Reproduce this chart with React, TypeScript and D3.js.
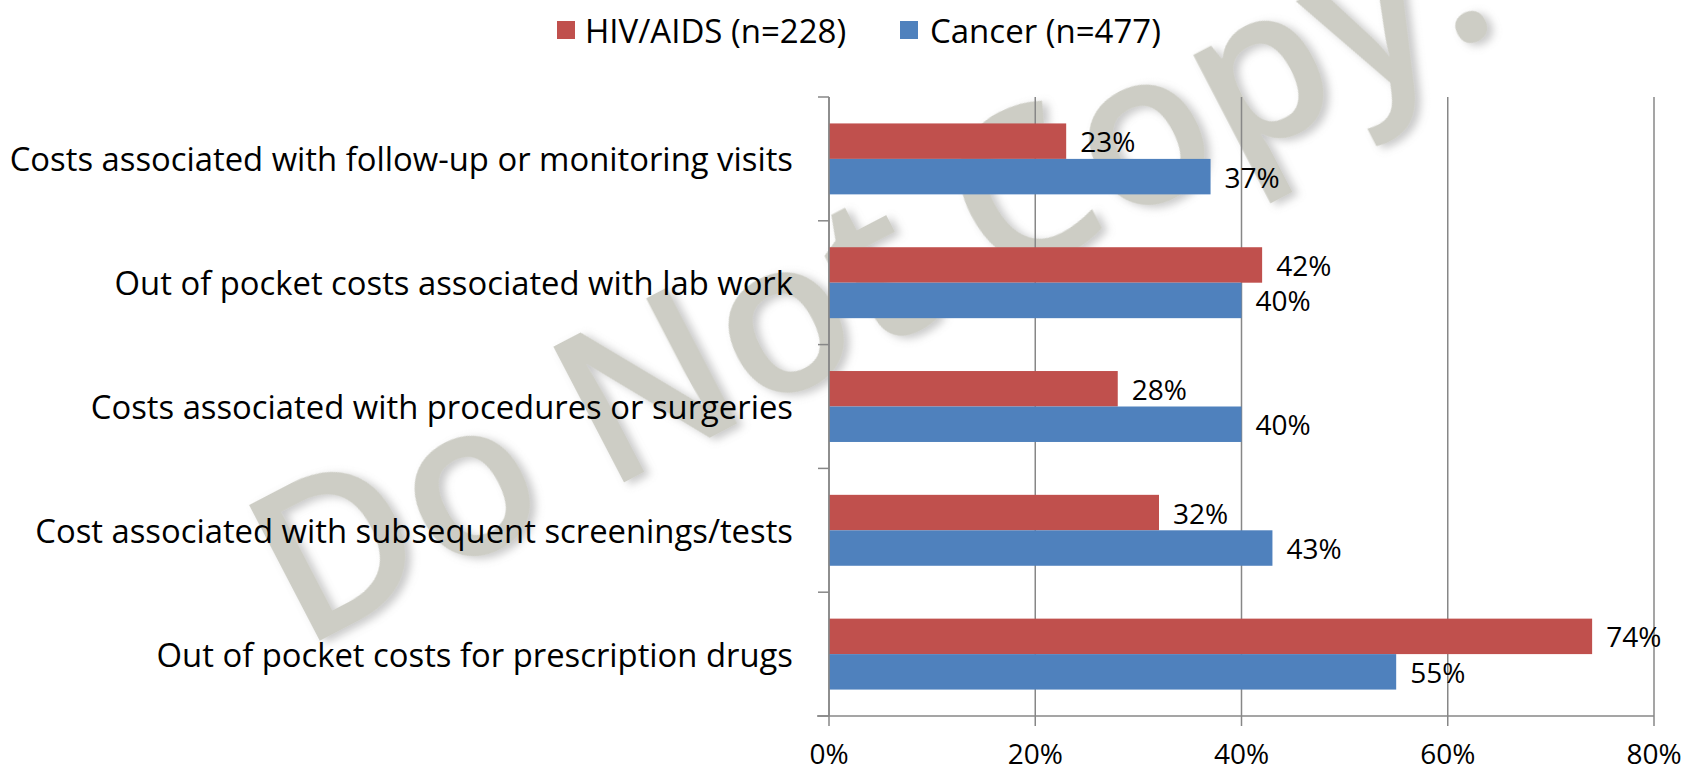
import * as d3 from "d3";

// chart data
const categories = [
  "Costs associated with follow-up or monitoring visits",
  "Out of pocket costs associated with lab work",
  "Costs associated with procedures or surgeries",
  "Cost associated with subsequent screenings/tests",
  "Out of pocket costs for prescription drugs",
];
const seriesNames = ["HIV/AIDS (n=228)", "Cancer (n=477)"];
const hivValues = [0.23, 0.42, 0.28, 0.32, 0.74];
const cancerValues = [0.37, 0.4, 0.4, 0.43, 0.55];
const xTicks = [0, 0.2, 0.4, 0.6, 0.8];
const colors = ["#C0504D", "#4F81BD"];
const watermarkText = "Do Not Copy.";

const width = 1684;
const height = 770;
const margin = { top: 97, right: 30, bottom: 54, left: 829 };
const font = "'Open Sans', sans-serif";
const gridColor = "#878787";

const App = () => {
  const x = d3
    .scaleLinear()
    .domain([0, 0.8])
    .range([margin.left, width - margin.right]);
  const y = d3
    .scaleBand()
    .domain(categories)
    .range([margin.top, height - margin.bottom])
    .paddingInner(0.427)
    .paddingOuter(0.2135);
  const inner = d3
    .scaleBand()
    .domain(seriesNames)
    .range([0, y.bandwidth()]);
  const pct = d3.format(".0%");

  const series = [hivValues, cancerValues];
  const yTop = y.range()[0];
  const yBottom = y.range()[1];
  const boundaries = d3.range(categories.length + 1).map((i) => yTop + i * y.step());

  return (
    <svg
      width={width}
      height={height}
      style={{ position: "absolute", left: 0, top: 0, display: "block", background: "#fff" }}
      fontFamily={font}
    >
      <defs>
        <filter id="wmShadow" x="-10%" y="-10%" width="120%" height="120%">
          <feDropShadow dx="4" dy="5" stdDeviation="4" floodColor="#777" floodOpacity="0.4" />
        </filter>
      </defs>

      {/* watermark behind everything */}
      <text
        transform="translate(302,650) rotate(-27.5)"
        fontSize={214}
        fontWeight={600}
        fill="#CDCDC5"
        filter="url(#wmShadow)"
      >
        {watermarkText}
      </text>

      {/* legend */}
      <g fontSize={33}>
        <rect x={557} y={21} width={18} height={18} fill={colors[0]} />
        <text x={585} y={30} dominantBaseline="central">{seriesNames[0]}</text>
        <rect x={900} y={21} width={18} height={18} fill={colors[1]} />
        <text x={930} y={30} dominantBaseline="central">{seriesNames[1]}</text>
      </g>

      {/* gridlines + bottom ticks */}
      {xTicks.map((t) => (
        <line
          key={t}
          x1={x(t)}
          x2={x(t)}
          y1={yTop}
          y2={yBottom + 10}
          stroke={gridColor}
          strokeWidth={1.5}
        />
      ))}

      {/* bars */}
      {categories.map((c, i) => (
        <g key={c} transform={`translate(0,${y(c)})`}>
          {series.map((vals, s) => (
            <rect
              key={s}
              x={x(0)}
              y={inner(seriesNames[s])}
              width={x(vals[i]) - x(0)}
              height={inner.bandwidth()}
              fill={colors[s]}
            />
          ))}
          {series.map((vals, s) => (
            <text
              key={"l" + s}
              x={x(vals[i]) + 14}
              y={(inner(seriesNames[s]) || 0) + inner.bandwidth() / 2}
              dominantBaseline="central"
              fontSize={28}
            >
              {pct(vals[i])}
            </text>
          ))}
        </g>
      ))}

      {/* left axis */}
      <line x1={x(0)} x2={x(0)} y1={yTop} y2={yBottom} stroke={gridColor} strokeWidth={1.5} />
      {boundaries.map((b, i) => (
        <line key={i} x1={x(0) - 11} x2={x(0)} y1={b} y2={b} stroke={gridColor} strokeWidth={1.5} />
      ))}
      {categories.map((c) => (
        <text
          key={c}
          x={x(0) - 36}
          y={(y(c) || 0) + y.bandwidth() / 2}
          textAnchor="end"
          dominantBaseline="central"
          fontSize={32.8}
        >
          {c}
        </text>
      ))}

      {/* bottom axis */}
      <line
        x1={x(0) - 12}
        x2={x(0.8)}
        y1={yBottom}
        y2={yBottom}
        stroke={gridColor}
        strokeWidth={1.5}
      />
      {xTicks.map((t) => (
        <text key={t} x={x(t)} y={764} textAnchor="middle" fontSize={28}>
          {pct(t)}
        </text>
      ))}
    </svg>
  );
};

export default App;
